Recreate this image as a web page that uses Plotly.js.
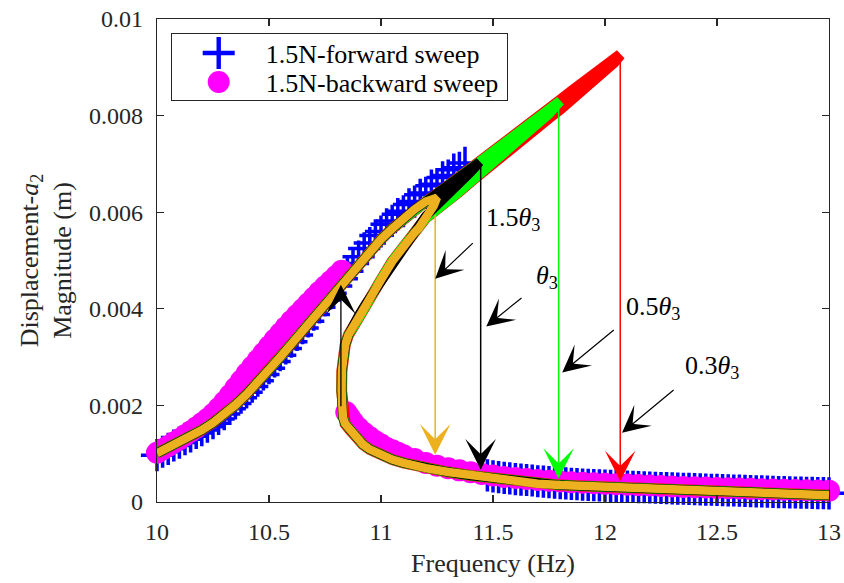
<!DOCTYPE html>
<html><head><meta charset="utf-8">
<script src="https://cdn.plot.ly/plotly-3.0.1.min.js"></script>
<style>html,body{margin:0;padding:0;background:#fff;}#chart{width:844px;height:583px;}</style>
</head><body><div id="chart"></div>
<script>
// amplitudes are given in units of 1e-3 m
const AMP_UNIT = 1e-3;

// ---- measured: 1.5N forward sweep (blue +) ----
const fwdFreq = [10.000,10.025,10.050,10.075,10.100,10.125,10.150,10.175,10.200,10.225,10.250,10.275,10.300,10.325,10.350,10.375,10.400,10.425,10.450,10.475,10.500,10.525,10.550,10.575,10.600,10.625,10.650,10.675,10.700,10.725,10.750,10.775,10.800,10.825,10.850,10.875,10.900,10.925,10.950,10.975,11.000,11.025,11.050,11.075,11.100,11.125,11.150,11.175,11.200,11.225,11.250,11.275,11.300,11.325,11.350,11.375,
  11.475,11.500,11.525,11.550,11.575,11.600,11.625,11.650,11.675,11.700,11.725,11.750,11.775,11.800,11.825,11.850,11.875,11.900,11.925,11.950,11.975,12.000,12.025,12.050,12.075,12.100,12.125,12.150,12.175,12.200,12.225,12.250,12.275,12.300,12.325,12.350,12.375,12.400,12.425,12.450,12.475,12.500,12.525,12.550,12.575,12.600,12.625,12.650,12.675,12.700,12.725,12.750,12.775,12.800,12.825,12.850,12.875,12.900,12.925,12.950,12.975,13.000];
const fwdAmp = [0.97,1.04,1.10,1.17,1.23,1.30,1.36,1.43,1.49,1.56,1.63,1.72,1.82,1.93,2.04,2.16,2.27,2.39,2.51,2.64,2.77,2.91,3.04,3.18,3.32,3.46,3.60,3.74,3.88,4.03,4.18,4.32,4.47,4.62,4.78,4.94,5.08,5.25,5.36,5.52,5.60,5.75,5.82,5.96,6.02,6.16,6.22,6.36,6.40,6.55,6.58,6.72,6.76,6.88,6.92,7.02,
  0.55,0.53,0.515,0.50,0.49,0.475,0.465,0.455,0.445,0.43,0.42,0.41,0.40,0.39,0.385,0.375,0.37,0.36,0.355,0.35,0.345,0.34,0.335,0.33,0.325,0.32,0.315,0.31,0.305,0.30,0.295,0.29,0.286,0.282,0.278,0.274,0.27,0.266,0.262,0.258,0.254,0.25,0.246,0.242,0.238,0.234,0.23,0.226,0.222,0.218,0.214,0.21,0.206,0.203,0.20,0.197,0.194,0.191,0.188,0.185,0.182,0.18];

// ---- measured: 1.5N backward sweep (magenta circles) ----
const bwdFreq = [10.000,10.025,10.050,10.075,10.100,10.125,10.150,10.175,10.200,10.225,10.250,10.275,10.300,10.325,10.350,10.375,10.400,10.425,10.450,10.475,10.500,10.525,10.550,10.575,10.600,10.625,10.650,10.675,10.700,10.725,10.750,10.775,10.800,10.825,
  10.845,10.860,10.875,10.900,10.925,10.950,10.975,11.000,11.025,11.050,11.075,11.100,11.150,11.200,11.250,11.300,11.350,11.400,11.450,11.500,11.550,11.600,11.650,11.700,11.750,11.800,11.850,11.900,11.950,12.000,12.050,12.100,12.150,12.200,12.250,12.300,12.350,12.400,12.450,12.500,12.550,12.600,12.650,12.700,12.750,12.800,12.850,12.900,12.950,13.000];
const bwdAmp = [1.02,1.09,1.16,1.23,1.30,1.38,1.46,1.54,1.63,1.72,1.82,1.94,2.07,2.21,2.36,2.51,2.66,2.80,2.94,3.08,3.22,3.36,3.49,3.62,3.75,3.87,3.99,4.11,4.23,4.35,4.46,4.57,4.68,4.79,
  1.86,1.76,1.66,1.53,1.43,1.34,1.26,1.19,1.12,1.07,1.02,0.97,0.89,0.81,0.75,0.70,0.655,0.615,0.58,0.55,0.52,0.495,0.475,0.455,0.44,0.425,0.41,0.40,0.39,0.38,0.37,0.36,0.35,0.34,0.33,0.32,0.313,0.306,0.299,0.292,0.285,0.278,0.272,0.266,0.26,0.255,0.25,0.245,0.24,0.235];

// ---- theory: shared upper (resonant) branch ----
const upperFreq = [10.00,10.05,10.10,10.15,10.20,10.25,10.30,10.35,10.40,10.45,10.50,10.55,10.60,10.65,10.70,10.75,10.80,10.85,10.90,10.95,11.00,11.05,11.10,11.15,11.20,11.25,11.30,11.35,11.40,11.45,11.50,11.55,11.60,11.65,11.70,11.75,11.80,11.85,11.90,11.95,12.00,12.05];
const upperAmp = [1.01,1.12,1.24,1.36,1.49,1.64,1.81,2.01,2.23,2.47,2.73,3.00,3.27,3.54,3.82,4.11,4.40,4.67,4.94,5.20,5.44,5.66,5.87,6.06,6.22,6.38,6.55,6.72,6.89,7.06,7.24,7.42,7.60,7.78,7.96,8.14,8.32,8.50,8.68,8.86,9.04,9.22];
// ---- theory: shared unstable branch (from the fold upward) ----
const unstFreq = [10.826,10.824,10.825,10.830,10.840,10.855,10.875,10.900,10.930,10.970,11.000,11.050,11.100,11.150,11.200,11.250,11.300,11.350,11.400,11.450,11.500,11.550,11.600,11.650,11.700,11.750,11.800,11.850,11.900,11.950,12.000,12.040];
const unstAmp = [1.95,2.30,2.70,3.00,3.25,3.46,3.66,3.86,4.09,4.38,4.60,4.98,5.30,5.58,5.88,6.07,6.24,6.43,6.63,6.83,7.02,7.21,7.39,7.58,7.77,7.95,8.13,8.33,8.53,8.73,8.93,9.10];
// ---- theory: shared lower (non-resonant) branch ----
const lowFreq = [10.826,10.830,10.840,10.860,10.890,10.920,10.950,11.000,11.050,11.100,11.150,11.200,11.300,11.400,11.500,11.600,11.700,11.800,11.900,12.000,12.200,12.400,12.600,12.800,13.000];
const lowAmp = [1.95,1.75,1.62,1.50,1.32,1.19,1.09,0.97,0.88,0.81,0.75,0.70,0.62,0.55,0.49,0.44,0.38,0.35,0.33,0.31,0.27,0.235,0.20,0.17,0.14];

// ---- theory: tips of each curve (peak and start of its own unstable branch) ----
const tipRedFreq = [12.068];                                      const tipRedAmp = [9.26];
const tipGreenFreq = [11.80,11.78,11.75,11.70,11.65,11.60];       const tipGreenAmp = [8.30,8.20,8.04,7.83,7.63,7.43];
const tipBlackFreq = [11.44,11.42,11.39,11.34,11.29,11.24,11.20]; const tipBlackAmp = [7.04,6.93,6.78,6.53,6.32,6.10,5.92];
const tipOrangeFreq = [11.25,11.235,11.215,11.19,11.17];          const tipOrangeAmp = [6.30,6.13,5.98,5.80,5.68];

// ---- jump arrows ----
const jumpDownFreq = [11.242, 11.445, 11.793, 12.068];
const jumpDownFrom = [5.98, 7.00, 8.28, 9.24];
const jumpDownTo = [0.98, 0.67, 0.48, 0.43];
const jumpDownColor = ['#EDB120', '#000000', '#00FF00', '#FF0000'];
const jumpUpFreq = 10.821, jumpUpFrom = 1.95, jumpUpTo = 4.50;

// ---- labels with pointer arrows ----
const labelText = ['1.5<i>θ</i><sub>3</sub>', '<i>θ</i><sub>3</sub>', '0.5<i>θ</i><sub>3</sub>', '0.3<i>θ</i><sub>3</sub>'];
const labelFreq = [11.462, 11.684, 12.085, 12.349];
const labelAmp = [5.85, 4.65, 4.02, 2.79];
const pointerTailFreq = [11.4165, 11.634, 12.046, 12.313];
const pointerTailAmp = [5.389, 4.25, 3.588, 2.346];
const pointerTipFreq = [11.242, 11.470, 11.809, 12.076];
const pointerTipAmp = [4.623, 3.636, 2.683, 1.435];

const xTicks = [10, 10.5, 11, 11.5, 12, 12.5, 13];

function toM(a) { return a.map(v => v * AMP_UNIT); }

function buildCurve(tipF, tipA) {
  const xs = [], ys = [];
  for (let i = 0; i < upperFreq.length; i++) if (upperFreq[i] < tipF[0]) { xs.push(upperFreq[i]); ys.push(upperAmp[i]); }
  for (let i = 0; i < tipF.length; i++) { xs.push(tipF[i]); ys.push(tipA[i]); }
  const last = tipF[tipF.length - 1];
  for (let i = unstFreq.length - 1; i >= 0; i--) if (unstFreq[i] < last) { xs.push(unstFreq[i]); ys.push(unstAmp[i]); }
  for (let i = 0; i < lowFreq.length; i++) { xs.push(lowFreq[i]); ys.push(lowAmp[i]); }
  return { x: xs, y: toM(ys) };
}

const FONT = 'Liberation Serif, Times New Roman, serif';
const INK = '#262626';

const traces = [
  { x: fwdFreq, y: toM(fwdAmp), mode: 'markers', name: '1.5N-forward sweep', cliponaxis: false,
    marker: { symbol: 'cross-thin', size: 23, color: '#0000FF', line: { color: '#0000FF', width: 3.5 } } },
  { x: bwdFreq, y: toM(bwdAmp), mode: 'markers', name: '1.5N-backward sweep', cliponaxis: false,
    marker: { symbol: 'circle', size: 22, color: '#FF00FF', line: { width: 0 } } }
];
const curveDefs = [
  [tipRedFreq, tipRedAmp, '#FF0000', 11],
  [tipGreenFreq, tipGreenAmp, '#00FF00', 10],
  [tipBlackFreq, tipBlackAmp, '#000000', 9.5],
  [tipOrangeFreq, tipOrangeAmp, '#EDB120', 8.5]
];
curveDefs.forEach(d => {
  const c = buildCurve(d[0], d[1]);
  traces.push({ x: c.x, y: c.y, mode: 'lines', showlegend: false, hoverinfo: 'skip',
    line: { color: d[2], width: d[3] } });
});

const annotations = [];
jumpDownFreq.forEach((f, i) => {
  annotations.push({ x: f, y: jumpDownTo[i] * AMP_UNIT, ax: f, ay: jumpDownFrom[i] * AMP_UNIT,
    xref: 'x', yref: 'y', axref: 'x', ayref: 'y', text: '', showarrow: true,
    arrowhead: 3, arrowsize: 3.4, arrowwidth: 1.5, arrowcolor: jumpDownColor[i] });
});
annotations.push({ x: jumpUpFreq, y: jumpUpTo * AMP_UNIT, ax: jumpUpFreq, ay: jumpUpFrom * AMP_UNIT,
  xref: 'x', yref: 'y', axref: 'x', ayref: 'y', text: '', showarrow: true,
  arrowhead: 3, arrowsize: 3.8, arrowwidth: 1.3, arrowcolor: '#000000' });
pointerTipFreq.forEach((f, i) => {
  annotations.push({ x: f, y: pointerTipAmp[i] * AMP_UNIT, ax: pointerTailFreq[i], ay: pointerTailAmp[i] * AMP_UNIT,
    xref: 'x', yref: 'y', axref: 'x', ayref: 'y', text: '', showarrow: true,
    arrowhead: 3, arrowsize: 3.8, arrowwidth: 1.2, arrowcolor: '#000000' });
  annotations.push({ x: labelFreq[i], y: labelAmp[i] * AMP_UNIT, xref: 'x', yref: 'y', text: labelText[i],
    showarrow: false, xanchor: 'left', yanchor: 'middle', font: { family: FONT, size: 26, color: '#000000' } });
});

const axisCommon = {
  showgrid: false, zeroline: false, showline: true, linecolor: INK, linewidth: 1.3,
  mirror: 'ticks', ticks: 'inside', ticklen: 7, tickwidth: 1.2, tickcolor: INK,
  tickfont: { family: FONT, size: 24, color: INK }
};

const layout = {
  width: 844, height: 583,
  margin: { l: 157, r: 15, t: 19, b: 81 },
  paper_bgcolor: '#ffffff', plot_bgcolor: '#ffffff',
  font: { family: FONT, color: INK },
  xaxis: Object.assign({}, axisCommon, { range: [10, 13], tickvals: xTicks, ticklabelstandoff: 8,
    title: { text: 'Frequency (Hz)', font: { family: FONT, size: 26, color: INK }, standoff: 9 } }),
  yaxis: Object.assign({}, axisCommon, { range: [0, 0.01], dtick: 0.002, tick0: 0, ticklabelstandoff: 8,
    title: { text: 'Displacement-<i>a</i><sub>2</sub><br>Magnitude (m)', font: { family: FONT, size: 26, color: INK }, standoff: 9 } }),
  legend: { x: 0.0204, y: 0.971, xanchor: 'left', yanchor: 'top', bgcolor: '#ffffff',
    bordercolor: INK, borderwidth: 1, itemwidth: 84, font: { family: FONT, size: 26, color: '#000000' }, tracegroupgap: 0 },
  annotations: annotations,
  showlegend: true
};

Plotly.newPlot('chart', traces, layout, { displayModeBar: false, staticPlot: true }).then(gd => {
  // enlarge legend symbols to the size used in the plot
  const pts = gd.querySelectorAll('.legend .legendpoints path.scatterpts');
  const scales = [1.43, 1.375];
  pts.forEach((p, i) => {
    const k = scales[i] || 1;
    const t = p.getAttribute('transform') || '';
    p.setAttribute('transform', t + ' scale(' + k + ')');
    if (i === 0) p.style.strokeWidth = (4.4 / k) + 'px';
  });
  // tighten legend row spacing
  const items = gd.querySelectorAll('.legend g.traces');
  const rowY = [20, 49];
  items.forEach((g, i) => {
    const t = g.getAttribute('transform') || '';
    const m = t.match(/translate\(([-\d.]+)[ ,]+([-\d.]+)\)/);
    if (m && rowY[i] !== undefined) g.setAttribute('transform', 'translate(' + m[1] + ',' + rowY[i] + ')');
  });
  const bg = gd.querySelector('.legend rect.bg');
  if (bg) {
    bg.setAttribute('height', 67);
    const w = parseFloat(bg.getAttribute('width') || '0');
    if (w) bg.setAttribute('width', Math.max(w, 336));
  }
});
</script></body></html>
